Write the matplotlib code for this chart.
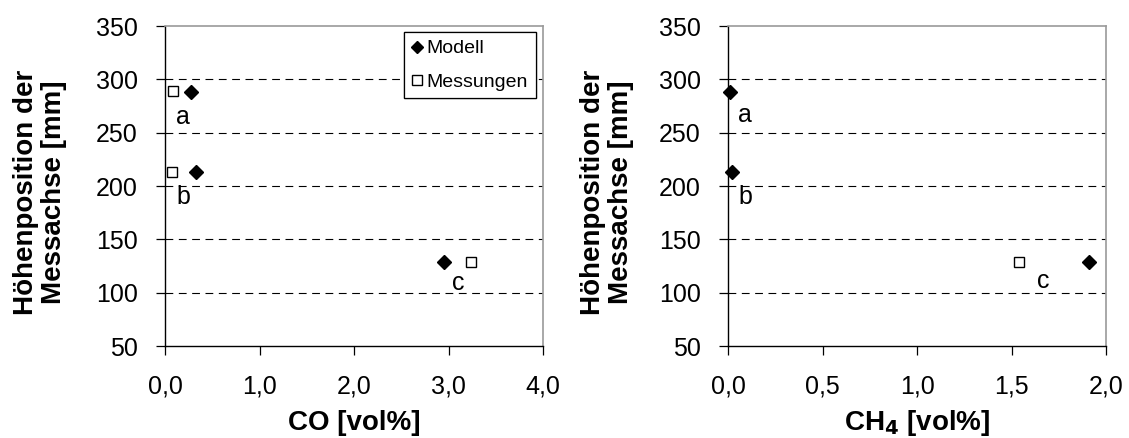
import matplotlib
matplotlib.use("Agg")
import matplotlib.pyplot as plt
from matplotlib.ticker import FixedLocator, FuncFormatter

plt.rcParams['font.family'] = ['Liberation Sans', 'DejaVu Sans']

# Measurement heights (mm) at positions a, b, c
positions = ['a', 'b', 'c']
height_model = [288, 213, 129]
height_meas = [289, 213, 129]

# CO concentrations [vol%]
co_model = [0.27, 0.33, 2.95]
co_meas = [0.08, 0.07, 3.24]

# CH4 concentrations [vol%]
ch4_model = [0.01, 0.02, 1.91]
ch4_meas_heights = [129]
ch4_meas = [1.54]

# Position labels (x, y) in data coordinates
co_label_xy = [(0.19, 265), (0.19, 190), (3.10, 109)]
ch4_label_xy = [(0.09, 267), (0.09, 190), (1.67, 111)]

W, H = 1129, 438
fig = plt.figure(figsize=(W / 100, H / 100), dpi=100)


def make_axes(left_px, xmax, xstep, xlabel, xs_model, ys_model, xs_meas, ys_meas,
              labels_xy, ylabel_x):
    ax = fig.add_axes([left_px / W, (H - 346) / H, 378 / W, 320 / H])
    ax.set_xlim(0, xmax)
    ax.set_ylim(50, 350)
    ax.yaxis.set_major_locator(FixedLocator(list(range(50, 351, 50))))
    nx = int(round(xmax / xstep))
    ax.xaxis.set_major_locator(FixedLocator([i * xstep for i in range(nx + 1)]))
    ax.xaxis.set_major_formatter(FuncFormatter(lambda v, p: f"{v:.1f}".replace('.', ',')))

    for y in range(100, 301, 50):
        ax.axhline(y, color='black', lw=0.8, dashes=(7, 5), zorder=1)

    for s in ('left', 'bottom'):
        ax.spines[s].set_color('black')
        ax.spines[s].set_linewidth(1.0)
    for s in ('top', 'right'):
        ax.spines[s].set_color('#9a9a9a')
        ax.spines[s].set_linewidth(1.2)

    ax.tick_params(axis='both', direction='out', length=6.5, width=0.9,
                   labelsize=18, color='black')
    ax.tick_params(axis='y', pad=13)
    ax.tick_params(axis='x', pad=14)

    ax.plot(xs_model, ys_model, linestyle='none', marker='D', ms=6.8,
            color='black', label='Modell', zorder=5, clip_on=False)
    ax.plot(xs_meas, ys_meas, linestyle='none', marker='s', ms=7.2,
            markerfacecolor='white', markeredgecolor='black', mew=1.0,
            label='Messungen', zorder=5, clip_on=False)

    for txt, (x, y) in zip(positions, labels_xy):
        ax.text(x, y, txt, fontsize=18, ha='center', va='center', zorder=6)

    ax.set_xlabel(xlabel, fontsize=20, fontweight='bold')
    ax.xaxis.set_label_coords(0.5, -0.24)
    ax.xaxis.label.set_va('center')
    ax.set_ylabel('Höhenposition der\nMessachse [mm]', fontsize=20,
                  fontweight='bold', linespacing=1.1)
    ax.yaxis.set_label_coords(ylabel_x, 0.48)
    ax.yaxis.label.set_va('center')

    leg = ax.legend(loc='upper right', bbox_to_anchor=((536 - left_px) / 378, 0.981),
                    fontsize=14, frameon=True, fancybox=False, framealpha=1,
                    edgecolor='black', handlelength=0.6, handletextpad=0.2,
                    borderaxespad=0, borderpad=0.4, labelspacing=0.8,
                    markerscale=0.95)
    leg.get_frame().set_linewidth(0.9)
    return ax


make_axes(165, 4.0, 1.0, 'CO [vol%]', co_model, height_model, co_meas, height_meas,
          co_label_xy, -0.33)
make_axes(728, 2.0, 0.5, r'CH$_\mathbf{4}$ [vol%]', ch4_model, height_model,
          ch4_meas, ch4_meas_heights, ch4_label_xy, -0.32)

fig.savefig('out.png', dpi=100)
